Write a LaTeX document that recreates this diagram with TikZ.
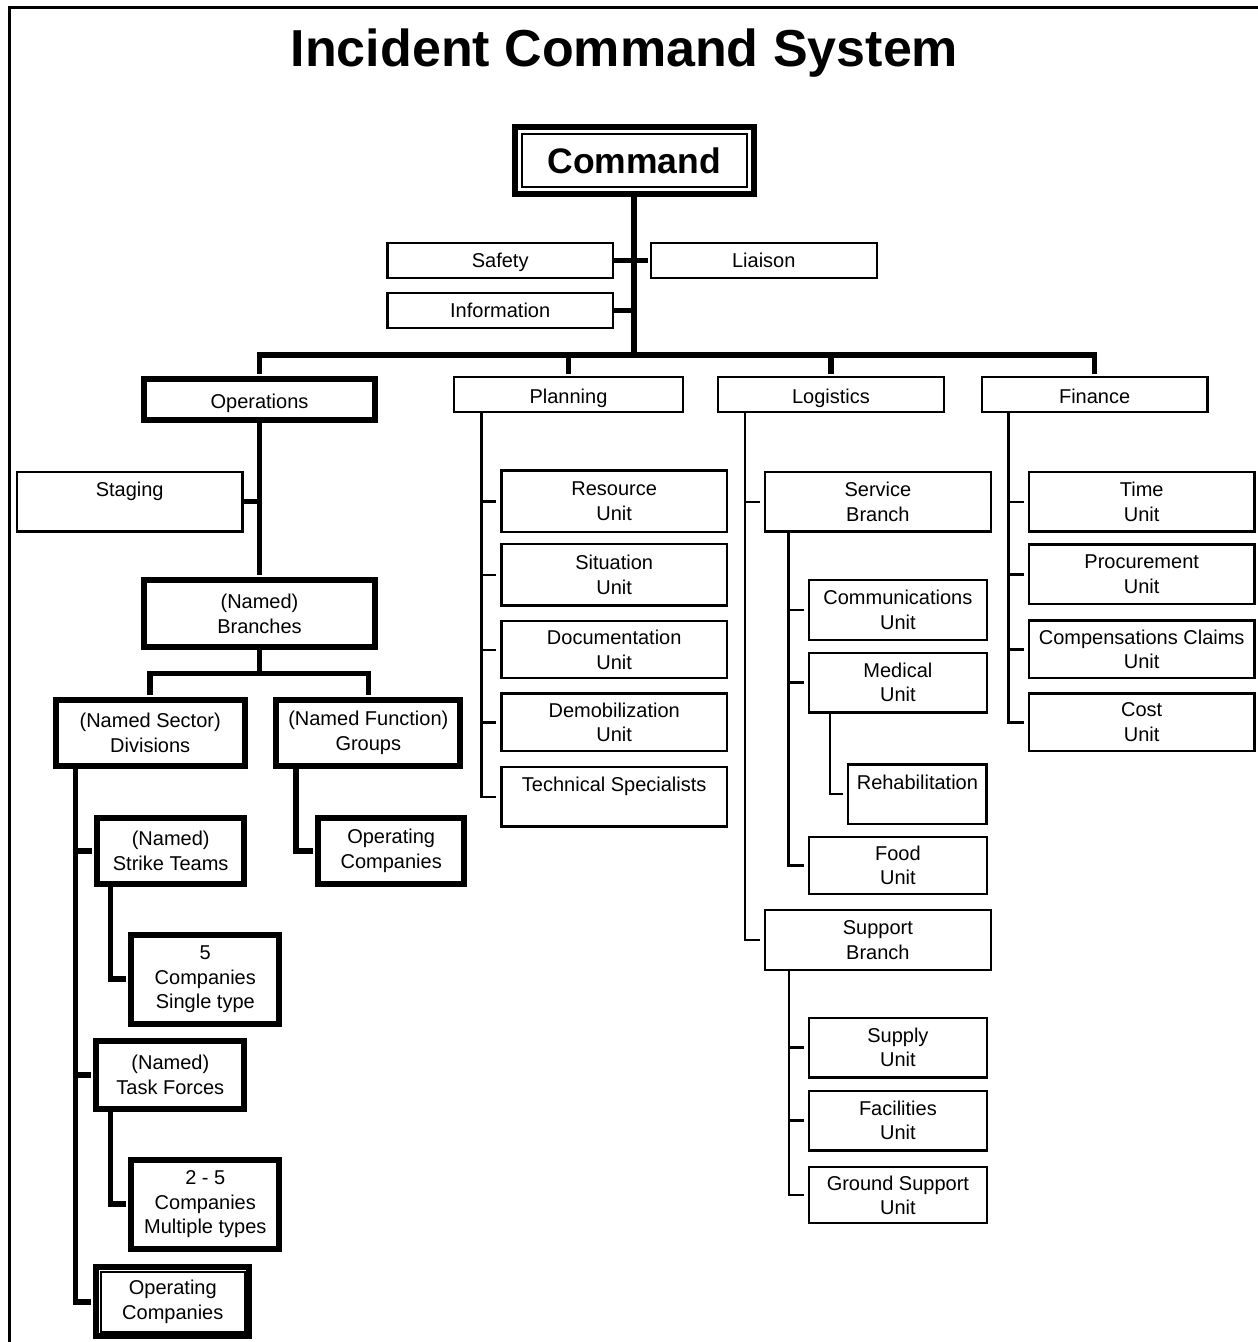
\documentclass[tikz,border=0pt]{standalone}
\usepackage{fontspec}
\setmainfont{Liberation Sans}
\begin{document}
\begin{tikzpicture}[x=1pt, y=-1pt]

        \tikzstyle{unitbox} = [rectangle, draw=black, line width=2.4pt, inner sep=0pt, text centered, align=center, minimum width=225.8pt, minimum height=59.6pt, font=\fontsize{20}{24.5}\selectfont]
        \tikzstyle{headbox} = [unitbox, minimum height=35pt, text height=14.6pt, text depth=0pt]
        \tikzstyle{subbox} = [unitbox, minimum width=177.6pt]
        \tikzstyle{heavybox} = [unitbox, line width=6pt]
        \tikzstyle{link} = [line width=2.4pt, shorten >=4pt]
        \tikzstyle{oplink} = [line width=5.5pt, shorten >=2pt]
        \tikzstyle{title} = [font=\fontsize{52}{60}\selectfont\bfseries, anchor=base]
        \fill [white] (0,0) rectangle (1258,1342);
        \useasboundingbox (0,0) rectangle (1258,1342);

        % Frame
        \draw [line width=2.7pt] (9.5,1342) -- (9.5,7.3) -- (1258,7.3);

        \node (title) [title] at (624.5,66) {Incident Command System};
        \node (command) [heavybox, minimum width=239pt, minimum height=67pt, font=\fontsize{35.5}{40}\selectfont\bfseries] at (634.2,160.7) {Command};
        \draw [line width=2pt] ([shift={(10,10)}]command.north west) rectangle ([shift={(-10,-10)}]command.south east);
        \coordinate (bus) at (634.2,355);

        \node (safety) [headbox] at (500.2,260.3) {Safety};
        \node (liaison) [headbox] at (763.8,260.3) {Liaison};
        \node (info) [headbox] at (500.2,310.3) {Information};
        \node (ops) [heavybox, minimum width=231.6pt, minimum height=40.7pt, text height=18.4pt, text depth=0pt] at (259.5,399.4) {Operations};
        \node (plan) [headbox, minimum width=229.4pt, text height=17.2pt] at (568.5,394.7) {Planning};
        \node (log) [headbox, text height=17.2pt] at (831,394.7) {Logistics};
        \node (fin) [headbox, text height=17.2pt] at (1094.6,394.7) {Finance};

        % Operations
        \node (staging) [unitbox] at (129.7,501.7) {Staging\\\mbox{}};
        \node (branches) [heavybox, minimum width=231.6pt, minimum height=66.7pt] at (259.5,613.7) {(Named)\\Branches};
        \coordinate (brbus) at (259.5,673.5);
        \node (div) [heavybox, minimum width=189pt, minimum height=66.3pt] at (150.2,732.9) {(Named Sector)\\Divisions};
        \node (groups) [heavybox, minimum width=184pt, minimum height=66.3pt] at (368.3,732.9) {(Named Function)\\Groups};
        \node (strike) [heavybox, minimum width=147.3pt, minimum height=65.7pt] at (170.7,850.9) {(Named)\\Strike Teams};
        \node (gopco) [heavybox, minimum width=146.3pt, minimum height=65.7pt] at (391.2,850.9) {Operating\\Companies};
        \node (five) [heavybox, minimum width=148pt, minimum height=89pt] at (205.3,979.2) {5\\Companies\\Single type};
        \node (task) [heavybox, minimum width=148pt, minimum height=67.4pt] at (170.3,1075) {(Named)\\Task Forces};
        \node (twofive) [heavybox, minimum width=148pt, minimum height=89pt] at (205.3,1204.2) {2 - 5\\Companies\\Multiple types};
        \node (dopco) [heavybox, minimum width=153pt, minimum height=69pt] at (172.8,1301.8) {Operating\\Companies};
        \draw [line width=2pt] ([shift={(7.5,7.5)}]dopco.north west) rectangle ([shift={(-7.5,-7.5)}]dopco.south east);

        % Planning
        \node (res) [unitbox, minimum height=61.8pt] at (614.2,501.3) {Resource\\Unit};
        \node (sit) [unitbox, minimum height=61.8pt] at (614.2,574.7) {Situation\\Unit};
        \node (doc) [unitbox, minimum height=57pt] at (614.2,649.7) {Documentation\\Unit};
        \node (demob) [unitbox, minimum height=57.6pt] at (614.2,722.3) {Demobilization\\Unit};
        \node (tech) [unitbox] at (614.2,796.7) {Technical Specialists\\\mbox{}};

        % Logistics
        \node (service) [unitbox] at (877.9,501.7) {Service\\Branch};
        \node (comm) [subbox] at (897.9,609.9) {Communications\\Unit};
        \node (med) [subbox] at (897.9,682.5) {Medical\\Unit};
        \node (rehab) [subbox, minimum width=138.4pt] at (917.4,794.2) {Rehabilitation\\\mbox{}};
        \node (food) [subbox, minimum height=56.6pt] at (897.9,865.5) {Food\\Unit};
        \node (support) [unitbox] at (877.9,940) {Support\\Branch};
        \node (supply) [subbox] at (897.9,1047.5) {Supply\\Unit};
        \node (facil) [subbox] at (897.9,1120.5) {Facilities\\Unit};
        \node (ground) [subbox, minimum height=56pt] at (897.9,1195.2) {Ground Support\\Unit};

        % Finance
        \node (time) [unitbox] at (1141.7,501.7) {Time\\Unit};
        \node (proc) [unitbox] at (1141.7,574.4) {Procurement\\Unit};
        \node (comp) [unitbox, minimum height=57.6pt] at (1141.7,649.3) {Compensations Claims\\Unit};
        \node (cost) [unitbox, minimum height=57.6pt] at (1141.7,722.3) {Cost\\Unit};

        % Lines
        \draw [oplink] (command) -- (bus);
        \draw [oplink] (safety) -- (liaison);
        \draw [oplink] (info) -- (info -| command);
        \draw [oplink] (bus) -| (ops);
        \draw [oplink] (bus) -| (plan);
        \draw [oplink] (bus) -| (log);
        \draw [oplink] (bus) -| (fin);

        \draw [oplink] (ops) -- (branches);
        \draw [oplink] (staging) -- (staging -| ops);
        \draw [oplink] (branches) -- (brbus);
        \draw [oplink] (brbus) -| (div);
        \draw [oplink] (brbus) -| (groups);
        \draw [oplink] ([xshift=22.8pt]div.south west) |- (strike);
        \draw [oplink] ([xshift=22.8pt]div.south west) |- (task);
        \draw [oplink] ([xshift=22.8pt]div.south west) |- (dopco);
        \draw [oplink] ([xshift=16.5pt]strike.south west) |- (five);
        \draw [oplink] ([xshift=17pt]task.south west) |- (twofive);
        \draw [oplink] ([xshift=22.7pt]groups.south west) |- (gopco);

        \draw [link] ([xshift=29pt]plan.south west) |- (res);
        \draw [link] ([xshift=29pt]plan.south west) |- (sit);
        \draw [link] ([xshift=29pt]plan.south west) |- (doc);
        \draw [link] ([xshift=29pt]plan.south west) |- (demob);
        \draw [link] ([xshift=29pt]plan.south west) |- (tech);

        \draw [link] ([xshift=28pt]log.south west) |- (service);
        \draw [link] ([xshift=28pt]log.south west) |- (support);
        \draw [link] ([xshift=24.8pt]service.south west) |- (comm);
        \draw [link] ([xshift=24.8pt]service.south west) |- (med);
        \draw [link] ([xshift=24.8pt]service.south west) |- (food);
        \draw [link] ([xshift=22pt]med.south west) |- (rehab);
        \draw [link] ([xshift=25.3pt]support.south west) |- (supply);
        \draw [link] ([xshift=25.3pt]support.south west) |- (facil);
        \draw [link] ([xshift=25.3pt]support.south west) |- (ground);

        \draw [link] ([xshift=28pt]fin.south west) |- (time);
        \draw [link] ([xshift=28pt]fin.south west) |- (proc);
        \draw [link] ([xshift=28pt]fin.south west) |- (comp);
        \draw [link] ([xshift=28pt]fin.south west) |- (cost);

\end{tikzpicture}
\end{document}
